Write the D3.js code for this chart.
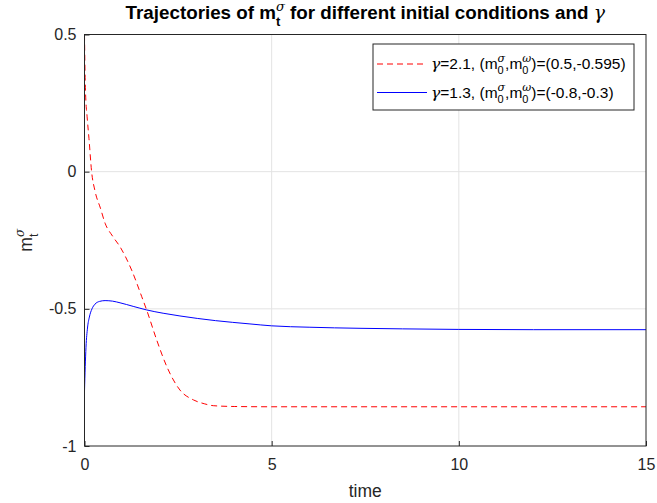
<!DOCTYPE html>
<html>
<head>
<meta charset="utf-8">
<script src="https://cdn.jsdelivr.net/npm/d3@7"></script>
<style>
  body { margin: 0; background: #fff; }
  text { font-family: "Liberation Sans", Arial, Helvetica, sans-serif; }
</style>
</head>
<body>
<div id="chart"></div>
<script>
// values
var redT = [0, 0.01, 0.03, 0.07, 0.12, 0.19, 0.28, 0.43, 0.55, 0.75, 0.95, 1.26, 1.53, 1.66, 1.93, 2.2, 2.55, 2.91, 3.2, 3.44, 4, 5, 8, 15];
var redV = [0.5, 0.4, 0.28, 0.2, 0.12, 0.0, -0.07, -0.135, -0.188, -0.235, -0.274, -0.359, -0.456, -0.504, -0.614, -0.711, -0.796, -0.832, -0.846, -0.853, -0.856, -0.857, -0.857, -0.857];
var blueT = [0, 0.02, 0.04, 0.08, 0.13, 0.2, 0.28, 0.4, 0.55, 0.75, 0.95, 1.3, 1.66, 2.1, 2.55, 3.5, 4.42, 5, 6, 7.36, 8.5, 10, 12, 15];
var blueV = [-0.8, -0.71, -0.64, -0.57, -0.53, -0.5, -0.483, -0.473, -0.47, -0.472, -0.478, -0.491, -0.504, -0.516, -0.526, -0.543, -0.555, -0.562, -0.567, -0.571, -0.573, -0.575, -0.576, -0.576];
var xTicks = [0, 5, 10, 15];
var yTicks = [-1, -0.5, 0, 0.5];
var seriesNames = ["red", "blue"];

var W = 657, H = 503;
var margin = {top: 34.5, right: 11, bottom: 57, left: 84.5};
var width = W - margin.left - margin.right,
    height = H - margin.top - margin.bottom;

var svg = d3.select("#chart").append("svg")
    .attr("width", W).attr("height", H);

var g = svg.append("g")
    .attr("transform", "translate(" + margin.left + "," + margin.top + ")");

var x = d3.scaleLinear().domain([0, 15]).range([0, width]);
var y = d3.scaleLinear().domain([-1, 0.5]).range([height, 0]);

// grid
g.append("g").selectAll("line").data(xTicks.slice(1, -1)).enter().append("line")
    .attr("x1", d => x(d)).attr("x2", d => x(d))
    .attr("y1", 0).attr("y2", height)
    .attr("stroke", "#e3e3e3");
g.append("g").selectAll("line").data(yTicks.slice(1, -1)).enter().append("line")
    .attr("y1", d => y(d)).attr("y2", d => y(d))
    .attr("x1", 0).attr("x2", width)
    .attr("stroke", "#e3e3e3");

// axes (ticks inside, like matlab)
var xAxis = g.append("g")
    .attr("transform", "translate(0," + height + ")")
    .call(d3.axisBottom(x).tickValues(xTicks).tickSize(-5).tickPadding(13).tickFormat(d => String(d)));
var yAxis = g.append("g")
    .call(d3.axisLeft(y).tickValues(yTicks).tickSize(-5).tickPadding(8).tickFormat(d => String(d)));
[xAxis, yAxis].forEach(function(a) {
  a.select(".domain").remove();
  a.selectAll(".tick line").attr("stroke", "#262626");
  a.selectAll(".tick text").attr("fill", "#262626").attr("font-size", 16)
    .style("font-family", "Liberation Sans, Arial, sans-serif");
});
xAxis.selectAll(".tick text").attr("dy", "0.71em");

// lines
var clip = g.append("clipPath").attr("id", "clip")
  .append("rect").attr("width", width).attr("height", height);

var line = d3.line()
    .x(d => x(d[0])).y(d => y(d[1]))
    .curve(d3.curveMonotoneX);

var redData = redT.map((t, i) => [t, redV[i]]);
var blueData = blueT.map((t, i) => [t, blueV[i]]);

g.append("path").datum(blueData)
    .attr("clip-path", "url(#clip)")
    .attr("fill", "none").attr("stroke", "#0000ff").attr("stroke-width", 1)
    .attr("d", line);
g.append("path").datum(redData)
    .attr("clip-path", "url(#clip)")
    .attr("fill", "none").attr("stroke", "#ff0000").attr("stroke-width", 1)
    .attr("stroke-dasharray", "6,4")
    .attr("d", line);

// box
g.append("rect").attr("width", width).attr("height", height)
    .attr("fill", "none").attr("stroke", "#262626").attr("stroke-width", 1);

// text with stacked super/subscripts
// parts: strings, {s: str, it: true}, or {sup:, sub:}
function rich(sel, parts, size) {
  var small = Math.round(size * 0.7);
  var pendingDy = 0, pendingDx = 0;
  parts.forEach(function(p) {
    if (typeof p === "string" || p.s !== undefined) {
      var txt = typeof p === "string" ? p : p.s;
      var ts = sel.append("tspan").text(txt)
        .attr("dy", pendingDy).attr("dx", pendingDx);
      if (p.it) ts.attr("font-style", "italic").attr("font-weight", "normal")
        .style("font-family", "DejaVu Serif, serif");
      pendingDy = 0; pendingDx = 0;
    } else {
      var up = -size * 0.45, down = size * 0.8;
      var sup = sel.append("tspan").text(p.sup)
        .attr("font-size", small).attr("dy", pendingDy + up).attr("dx", pendingDx)
        .attr("font-style", "italic").attr("font-weight", "normal")
        .style("font-family", "DejaVu Serif, serif");
      var w1 = sup.node().getComputedTextLength();
      var sub = sel.append("tspan").text(p.sub)
        .attr("font-size", small).attr("dy", down).attr("dx", -w1);
      var w2 = sub.node().getComputedTextLength();
      pendingDy = -(up + down);
      pendingDx = Math.max(0, w1 - w2);
    }
  });
}

// title
var title = svg.append("text")
    .attr("x", margin.left + width / 2).attr("y", 19)
    .attr("text-anchor", "middle")
    .attr("font-size", 18.8).attr("font-weight", "bold").attr("fill", "#000");
rich(title, ["Trajectories of m", {sup: "\u03c3", sub: "t"},
  " for different initial conditions and ", {s: "\u03b3", it: true}], 18.8);

// x label
svg.append("text")
    .attr("x", margin.left + width / 2).attr("y", 497)
    .attr("text-anchor", "middle")
    .attr("font-size", 17.5).attr("fill", "#262626")
    .text("time");

// y label
var yl = svg.append("text")
    .attr("transform", "translate(32," + (margin.top + height / 2) + ") rotate(-90)")
    .attr("text-anchor", "middle")
    .attr("font-size", 17.5).attr("fill", "#262626");
rich(yl, ["m", {sup: "\u03c3", sub: "t"}], 17.5);

// legend
var leg = svg.append("g").attr("transform", "translate(373,44)");
leg.append("rect").attr("width", 261).attr("height", 66)
    .attr("fill", "#fff").attr("stroke", "#262626").attr("stroke-width", 1);
var legLabels = [
  [{s: "\u03b3", it: true}, "=2.1, (m", {sup: "\u03c3", sub: "0"}, ",m", {sup: "\u03c9", sub: "0"}, ")=(0.5,-0.595)"],
  [{s: "\u03b3", it: true}, "=1.3, (m", {sup: "\u03c3", sub: "0"}, ",m", {sup: "\u03c9", sub: "0"}, ")=(-0.8,-0.3)"]
];
var legColors = ["#ff0000", "#0000ff"];
var legDash = ["6,4", null];
seriesNames.forEach(function(name, i) {
  var yy = 20 + i * 28.5;
  leg.append("line")
    .attr("x1", 4).attr("x2", 54).attr("y1", yy).attr("y2", yy)
    .attr("stroke", legColors[i]).attr("stroke-width", 1)
    .attr("stroke-dasharray", legDash[i]);
  var t = leg.append("text").attr("x", 58).attr("y", yy + 5)
    .attr("font-size", 15.5).attr("fill", "#000");
  rich(t, legLabels[i], 15.5);
});
</script>
</body>
</html>
